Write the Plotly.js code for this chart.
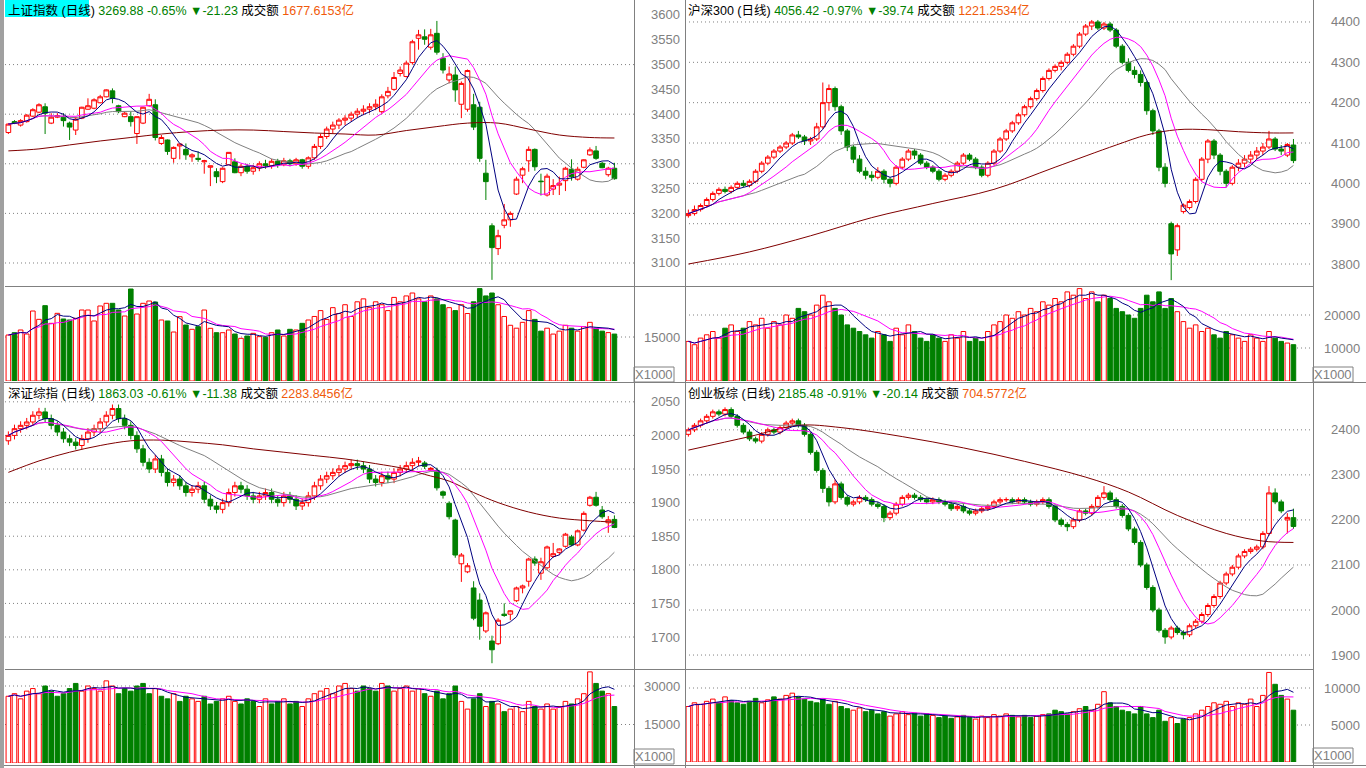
<!DOCTYPE html>
<html>
<head>
<meta charset="utf-8">
<script src="https://cdn.plot.ly/plotly-3.0.1.min.js"></script>
<style>
  html, body { margin: 0; padding: 0; background: #fff; overflow: hidden; }
  #chart { width: 1366px; height: 768px; }
</style>
</head>
<body>
<div id="chart"></div>
<script>
// ---- 上证指数 ----
var shOpen = [3363,3385,3378,3385,3396,3404,3415,3382,3394,3394, 3382,3368,3392,3410,3412,3423,3435,3447,3417,3395, 3395,3361,3382,3417,3419,3341,3348,3311,3336,3329, 3314,3311,3304,3293,3284,3264,3298,3304,3282,3295, 3285,3292,3300,3296,3305,3298,3306,3300,3308,3295, 3312,3335,3355,3370,3378,3388,3392,3400,3406,3410, 3415,3405,3437,3450,3482,3476,3504,3553,3556,3535, 3563,3513,3469,3479,3420,3410,3419,3414,3281,3175, 3129,3176,3187,3239,3277,3306,3329,3265,3237,3249, 3257,3266,3289,3269,3293,3318,3326,3301,3278,3291];
var shHigh = [3382,3388,3390,3400,3412,3422,3422,3402,3402,3402, 3385,3395,3415,3432,3432,3439,3450,3452,3419,3405, 3405,3395,3415,3441,3430,3358,3349,3335,3340,3341, 3321,3325,3308,3296,3291,3293,3323,3311,3300,3300, 3298,3305,3308,3310,3310,3312,3310,3312,3310,3315, 3340,3360,3375,3385,3392,3398,3405,3412,3418,3422, 3430,3440,3455,3485,3496,3508,3550,3570,3571,3572, 3588,3523,3496,3496,3466,3490,3441,3425,3308,3180, 3167,3219,3204,3274,3294,3335,3331,3280,3280,3269, 3274,3294,3309,3294,3309,3333,3336,3304,3294,3302];
var shLow = [3360,3380,3375,3383,3394,3402,3360,3380,3392,3375, 3348,3358,3390,3409,3410,3422,3434,3422,3402,3394, 3375,3340,3380,3415,3347,3338,3318,3302,3309,3308, 3304,3304,3280,3255,3261,3261,3298,3281,3275,3280, 3278,3285,3290,3290,3292,3295,3295,3296,3290,3290, 3308,3330,3350,3362,3370,3378,3385,3392,3398,3402, 3408,3400,3432,3447,3476,3474,3500,3530,3540,3530, 3520,3482,3462,3425,3392,3405,3368,3304,3227,3066, 3116,3170,3173,3237,3261,3284,3286,3236,3234,3237, 3237,3245,3266,3266,3291,3316,3308,3291,3274,3268];
var shClose = [3380,3382,3387,3398,3409,3419,3402,3394,3397,3387, 3374,3390,3414,3417,3429,3435,3449,3432,3405,3402, 3385,3395,3414,3430,3353,3353,3325,3333,3340,3318, 3318,3309,3306,3296,3274,3291,3323,3282,3295,3285, 3292,3300,3296,3305,3298,3306,3300,3308,3295,3312, 3335,3355,3370,3378,3388,3392,3400,3406,3410,3415, 3420,3435,3446,3474,3489,3503,3546,3560,3551,3560, 3525,3489,3481,3449,3462,3488,3374,3311,3264,3131, 3155,3187,3200,3269,3290,3329,3294,3264,3275,3256, 3261,3291,3274,3289,3308,3328,3311,3292,3291.11,3269.88];
var shVol = [15680,16470,17390,16020,23860,21020,25680,19660,23070,21140, 20800,21370,24200,24200,20460,25570,26480,26480,24200,22160, 31360,22840,26480,27270,26930,20800,20460,16700,21930,19090, 17620,18520,24200,17960,16470,16470,17390,16020,14550,15340, 16250,15120,14890,16470,17390,15340,17620,17390,19660,20800, 22000,24000,21000,25000,23000,26000,22000,27000,28000,25000, 27000,26000,24000,28500,27000,29000,30000,28000,27000,29000, 28000,26000,25000,24000,26000,23000,27000,31500,29000,30000, 26000,22000,19000,18000,20000,24000,21000,17000,18000,16000, 17000,19000,18000,17000,18500,20000,18000,17000,16500,16000];
var shMaLongX = [0,5,10,15,20,25,30,35,40,45,50,55,60,65,70,75,80,85,90,95,99];
var shMaLong = [3326,3330,3338,3346,3353,3360,3365,3368,3368,3365,3362,3360,3358,3367,3375,3382,3382,3370,3358,3353,3352];

// ---- 沪深300 ----
var hsOpen = [3920,3925,3935,3945,3960,3975,3985,3980,3990,4000, 3995,4005,4030,4050,4065,4080,4090,4100,4120,4115, 4105,4110,4140,4200,4235,4190,4130,4090,4060,4030, 4020,4015,4030,4010,4000,4040,4060,4080,4070,4050, 4040,4030,4010,4020,4030,4050,4070,4060,4040,4020, 4050,4080,4110,4130,4150,4170,4190,4210,4230,4260, 4280,4290,4300,4320,4340,4370,4390,4400,4385,4395, 4380,4340,4300,4280,4270,4250,4180,4130,4040,3900, 3835,3930,3940,3955,4010,4060,4105,4070,4030,4000, 4040,4050,4060,4070,4080,4090,4110,4085,4070,4095];
var hsHigh = [3935,3945,3950,3965,3980,3990,3992,3995,4005,4008, 4010,4035,4055,4070,4085,4095,4105,4125,4130,4120, 4115,4150,4250,4245,4240,4195,4135,4095,4070,4040, 4030,4040,4035,4015,4045,4065,4085,4085,4075,4055, 4045,4035,4025,4035,4055,4075,4075,4065,4045,4055, 4085,4115,4135,4155,4175,4195,4215,4235,4265,4285, 4295,4305,4325,4345,4375,4395,4405,4405,4400,4400, 4385,4345,4310,4290,4280,4255,4185,4135,4050,3905, 3900,3950,3960,4015,4065,4110,4110,4075,4035,4045, 4060,4070,4080,4090,4100,4130,4115,4095,4100,4110];
var hsLow = [3915,3920,3930,3940,3955,3970,3975,3975,3985,3990, 3990,4000,4025,4045,4060,4075,4085,4095,4110,4095, 4095,4105,4135,4180,4180,4120,4080,4050,4025,4010, 4005,4010,4000,3990,3995,4035,4055,4060,4045,4035, 4025,4005,4005,4015,4025,4045,4055,4035,4015,4015, 4045,4075,4105,4125,4145,4165,4185,4205,4225,4255, 4275,4280,4295,4315,4335,4365,4380,4380,4380,4375, 4335,4295,4275,4260,4240,4170,4120,4030,3990,3760, 3820,3925,3935,3950,4005,4050,4060,4020,3990,3995, 4030,4040,4050,4060,4070,4085,4080,4070,4065,4050];
var hsClose = [3925,3935,3945,3960,3975,3985,3980,3990,4000,3995, 4005,4030,4050,4065,4080,4090,4100,4120,4115,4105, 4110,4140,4200,4235,4190,4130,4090,4060,4030,4020, 4015,4030,4010,4000,4040,4060,4080,4070,4050,4040, 4030,4010,4020,4030,4050,4070,4060,4040,4020,4050, 4080,4110,4130,4150,4170,4190,4210,4230,4260,4280, 4290,4300,4320,4340,4370,4390,4400,4385,4395,4380, 4340,4300,4280,4270,4250,4180,4130,4040,4000,3825, 3895,3946,3955,4010,4060,4105,4070,4030,4000,4040, 4050,4060,4070,4080,4090,4110,4085,4080,4096.16,4056.42];
var hsVol = [12000,11000,13000,14000,15000,13000,16000,17000,15000,16000, 18000,17000,19000,16000,18000,17000,20000,19000,22000,21000, 20000,23000,26000,24000,22000,20000,17000,16000,15000,14000, 13000,15000,14000,12000,16000,14000,17000,15000,13000,12000, 14000,13000,12000,14000,13000,15000,12000,13000,12000,15000, 17000,18000,20000,19000,21000,20000,22000,21000,24000,23000, 25000,24000,27000,26000,28000,25000,27000,24000,26000,25000, 22000,21000,20000,19000,22000,26000,24000,27000,22000,25000, 21000,18000,16000,17000,15000,16000,14000,13000,15000,14000, 13000,12000,14000,13000,12000,15000,13000,12000,11500,11000];
var hsMaLongX = [0,10,20,30,40,50,60,70,75,80,85,90,95,99];
var hsMaLong = [3800,3830,3870,3915,3950,3985,4040,4095,4120,4133,4133,4128,4125,4125];

// ---- 深证综指 ----
var szOpen = [1992,2000,2010,2015,2020,2030,2035,2025,2015,2005, 1995,1990,1985,1995,2005,2010,2020,2030,2040,2025, 2015,2000,1980,1960,1950,1965,1945,1930,1935,1925, 1915,1920,1925,1905,1895,1890,1900,1915,1925,1920, 1910,1905,1910,1915,1905,1900,1910,1905,1895,1900, 1910,1925,1935,1940,1945,1950,1955,1958,1955,1950, 1935,1930,1940,1935,1945,1950,1955,1960, 1959,1949,1948,1916,1899,1874,1809,1797,1773,1755, 1709,1694,1690,1734,1734,1754,1773,1783,1816,1795, 1803,1820,1826,1835,1849,1837,1859,1896,1908,1889, 1870,1875];
var szHigh = [2006,2016,2021,2026,2036,2041,2041,2031,2021,2011, 2001,1996,2001,2011,2016,2026,2036,2046,2046,2031, 2021,2006,1986,1966,1971,1971,1951,1941,1941,1931, 1926,1931,1931,1911,1901,1906,1921,1931,1931,1926, 1916,1916,1921,1921,1911,1916,1916,1911,1906,1916, 1931,1941,1946,1951,1956,1961,1964,1964,1961,1956, 1941,1946,1946,1951,1956,1961,1966,1968, 1962,1953,1952,1918,1902,1876,1825,1810,1783,1765, 1738,1702,1728,1750,1740,1775,1778,1818,1820,1818, 1836,1840,1832,1855,1852,1860,1887,1910,1916,1895, 1880,1881];
var szLow = [1986,1994,2004,2009,2014,2024,2019,2009,1999,1989, 1984,1979,1979,1989,1999,2004,2014,2024,2019,2009, 1994,1974,1954,1944,1944,1939,1924,1924,1919,1909, 1909,1914,1899,1889,1884,1884,1894,1909,1914,1904, 1899,1899,1904,1899,1894,1894,1899,1889,1889,1894, 1904,1919,1929,1934,1939,1944,1949,1949,1944,1929, 1924,1924,1929,1929,1939,1944,1949,1954, 1950,1947,1918,1906,1875,1818,1782,1795,1725,1696, 1706,1661,1688,1730,1725,1752,1765,1775,1806,1785, 1800,1818,1822,1833,1835,1835,1857,1894,1894,1876, 1855,1862];
var szClose = [2000,2010,2015,2020,2030,2035,2025,2015,2005,1995, 1990,1985,1995,2005,2010,2020,2030,2040,2025,2015, 2000,1980,1960,1950,1965,1945,1930,1935,1925,1915, 1920,1925,1905,1895,1890,1900,1915,1925,1920,1910, 1905,1910,1915,1905,1900,1910,1905,1895,1900,1910, 1925,1935,1940,1945,1950,1955,1958,1955,1950,1935, 1930,1940,1935,1945,1950,1955,1960,1962, 1954,1951,1922,1911,1879,1822,1822,1806,1728,1716, 1736,1681,1725,1732,1739,1773,1776,1816,1810,1812, 1834,1824,1831,1853,1837,1858,1884,1908,1896,1879, 1874.41,1863.03];
var szVol = [26000,27000,25000,28000,29000,27000,30000,28000,26000,27000, 29000,31000,28000,30000,29000,28000,32000,30000,27000,29000, 28000,30000,31000,27000,29000,26000,25000,27000,24000,26000, 25000,24000,26000,23000,24000,25000,26000,24000,23000,25000, 24000,22000,25000,23000,24000,25000,23000,24000,22000,25000, 27000,28000,29000,27000,30000,31000,29000,28000,30000,29000, 28000,31000,30000,28000,29000,30000,28000,29000,27000,26000, 28000,25000,27000,30000,24000,21000,25000,27000,22000,24000, 23000,20000,21000,22000,20000,24000,22000,21000,23000,21000, 22000,24000,23000,25000,27000,35500,31000,28000,27000,22000];
var szMaLongX = [0,5,10,15,20,25,30,35,40,45,50,55,60,65,68,72,76,80,85,90,95,99];
var szMaLong = [1945,1962,1975,1985,1992,1993,1990,1986,1980,1975,1970,1965,1958,1950,1942,1932,1915,1900,1886,1877,1873,1871];

// ---- 创业板综 ----
var cyOpen = [2390,2400,2410,2420,2430,2440,2435,2445,2430,2410, 2395,2380,2375,2390,2400,2395,2405,2415,2420,2410, 2390,2350,2310,2270,2240,2280,2250,2235,2240,2250, 2245,2235,2230,2205,2215,2235,2250,2255,2250,2245, 2240,2245,2240,2235,2225,2230,2220,2215,2220,2225, 2230,2240,2245,2245,2240,2245,2240,2235,2240,2245, 2230,2200,2190,2185,2200,2220,2215,2230,2250,2260, 2245,2230,2210,2180,2150,2100,2050,2000,1955,1940, 1960,1950,1945,1965,1975,1990,2010,2030,2060,2080, 2095,2120,2130,2135,2140,2170,2260,2240,2200,2205];
var cyHigh = [2405,2415,2425,2435,2445,2445,2450,2450,2435,2415, 2400,2385,2395,2405,2405,2410,2420,2425,2425,2415, 2395,2355,2315,2275,2290,2285,2255,2245,2255,2255, 2250,2240,2235,2220,2240,2255,2260,2260,2255,2250, 2250,2250,2245,2240,2235,2235,2225,2225,2230,2235, 2245,2250,2250,2250,2250,2250,2245,2245,2250,2250, 2235,2205,2195,2205,2225,2225,2235,2255,2275,2265, 2250,2235,2215,2185,2155,2105,2055,2005,1960,1965, 1965,1955,1970,1980,1995,2015,2035,2065,2085,2100, 2125,2135,2140,2145,2175,2275,2270,2245,2215,2225];
var cyLow = [2385,2395,2405,2415,2425,2430,2430,2425,2405,2390, 2375,2370,2370,2385,2390,2390,2400,2410,2405,2385, 2345,2305,2260,2230,2235,2245,2230,2230,2235,2240, 2230,2225,2195,2200,2210,2230,2245,2245,2240,2235, 2235,2235,2230,2220,2220,2215,2210,2210,2215,2220, 2225,2235,2240,2235,2235,2235,2230,2230,2235,2225, 2195,2185,2175,2180,2195,2210,2210,2225,2245,2240, 2225,2205,2175,2145,2095,2045,1995,1950,1925,1935, 1945,1935,1940,1960,1970,1985,2005,2025,2055,2075, 2090,2115,2125,2130,2135,2165,2235,2215,2170,2180];
var cyClose = [2400,2410,2420,2430,2440,2435,2445,2430,2410,2395, 2380,2375,2390,2400,2395,2405,2415,2420,2410,2390, 2350,2310,2270,2240,2280,2250,2235,2240,2250,2245, 2235,2230,2205,2215,2235,2250,2255,2250,2245,2240, 2245,2240,2235,2225,2230,2220,2215,2220,2225,2230, 2240,2245,2245,2240,2245,2240,2235,2240,2245,2230, 2200,2190,2185,2200,2220,2215,2230,2250,2260,2245, 2230,2210,2180,2150,2100,2050,2000,1955,1940,1960, 1950,1945,1965,1975,1990,2010,2030,2060,2080,2095, 2120,2130,2135,2140,2170,2260,2240,2220,2205.62,2185.48];
var cyVol = [7500,8000,7800,8200,8500,8000,8800,8300,8000,7800, 8200,8600,8000,8400,8800,8500,9000,9300,8800,8500, 8200,8000,8500,7800,8200,7500,7200,7000,7300,6800, 7000,6500,6800,6200,6500,6800,6400,6600,6200,6500, 6300,6000,6200,5900,6100,6300,6000,5800,6200,6000, 6400,6200,6500,6300,6100,6300,6000,6200,6400,6500, 7000,6800,6500,6800,7200,7500,7000,7800,9500,8000, 7500,7000,6800,6500,7500,6500,6000,7000,5500,6000, 5200,5800,6000,6500,7000,7500,8000,7800,8200,7500, 8000,7800,8500,7500,9000,12100,10500,9000,8500,7000];
var cyMaLongX = [0,10,18,25,35,45,55,65,72,80,88,94,99];
var cyMaLong = [2355,2385,2410,2405,2385,2360,2330,2295,2262,2210,2170,2153,2150];

// ---- axis labels ----
var shTicks = [3100,3150,3200,3250,3300,3350,3400,3450,3500,3550,3600];
var shGrid = [3100,3200,3300,3400,3500];
var hsTicks = [3800,3900,4000,4100,4200,4300,4400];
var szTicks = [1700,1750,1800,1850,1900,1950,2000,2050];
var cyTicks = [1900,2000,2100,2200,2300,2400];
var shVolTicks = [15000];
var hsVolTicks = [10000,20000];
var szVolTicks = [15000,30000];
var cyVolTicks = [5000,10000];

var headers = [
  ['上证指数 (日线)', '3269.88 -0.65% ▼-21.23', '1677.6153亿'],
  ['沪深300 (日线)', '4056.42 -0.97% ▼-39.74', '1221.2534亿'],
  ['深证综指 (日线)', '1863.03 -0.61% ▼-11.38', '2283.8456亿'],
  ['创业板综 (日线)', '2185.48 -0.91% ▼-20.14', '704.5772亿']
];

var W = 1366, H = 768;
function fx(p) { return p / W; }
function fy(p) { return 1 - p / H; }

var RED = '#ff0000', GREEN = '#008000', GRAY = '#808080';
var FONT = '"Liberation Sans", Arial, "Noto Sans CJK SC", sans-serif';

function ma(arr, n) {
  return arr.map(function (_, i) {
    var s = arr.slice(Math.max(0, i - n + 1), i + 1);
    return s.reduce(function (a, b) { return a + b; }, 0) / s.length;
  });
}

var idx = shClose.map(function (_, i) { return i; });

var panels = [
  { o: shOpen, h: shHigh, l: shLow, c: shClose, v: shVol, lx: shMaLongX, lv: shMaLong,
    xa: 'x', ya: 'y', yv: 'y2', ticks: shTicks, grid: shGrid, vticks: shVolTicks,
    left: 5, right: 634, top: 0, mid: 286, bot: 381, labelX: 682, range: [3053.6, 3630.2], vrange: [0, 32045] },
  { o: hsOpen, h: hsHigh, l: hsLow, c: hsClose, v: hsVol, lx: hsMaLongX, lv: hsMaLong,
    xa: 'x2', ya: 'y3', yv: 'y4', ticks: hsTicks, grid: hsTicks, vticks: hsVolTicks,
    left: 685, right: 1313, top: 0, mid: 286, bot: 381, labelX: 1362, range: [3745.5, 4454.5], vrange: [0, 28485] },
  { o: szOpen, h: szHigh, l: szLow, c: szClose, v: szVol, lx: szMaLongX, lv: szMaLong,
    xa: 'x3', ya: 'y5', yv: 'y6', ticks: szTicks, grid: szTicks, vticks: szVolTicks,
    left: 5, right: 634, top: 383, mid: 669, bot: 763, labelX: 682, range: [1652.4, 2078], vrange: [0, 36234] },
  { o: cyOpen, h: cyHigh, l: cyLow, c: cyClose, v: cyVol, lx: cyMaLongX, lv: cyMaLong,
    xa: 'x4', ya: 'y7', yv: 'y8', ticks: cyTicks, grid: cyTicks, vticks: cyVolTicks,
    left: 685, right: 1313, top: 383, mid: 669, bot: 762, labelX: 1362, range: [1869, 2504], vrange: [0, 12432] }
];

var data = [];
var layout = {
  width: W, height: H,
  margin: { l: 0, r: 0, t: 0, b: 0 },
  paper_bgcolor: '#ffffff', plot_bgcolor: '#ffffff',
  showlegend: false, hovermode: false, dragmode: false,
  boxgap: 0.2, boxgroupgap: 0.05,
  font: { family: FONT, size: 12, color: '#000' },
  shapes: [], annotations: []
};

function axName(a) { return a.replace('x', 'xaxis').replace('y', 'yaxis'); }
function lineTrace(x, y, color, xa, ya, shape) {
  return { type: 'scatter', mode: 'lines', x: x, y: y, xaxis: xa, yaxis: ya,
    line: { color: color, width: 1, shape: shape || 'linear' }, hoverinfo: 'skip' };
}

panels.forEach(function (p, k) {
  var xk = axName(p.xa), yk = axName(p.ya), vk = axName(p.yv);
  layout[xk] = { domain: [fx(p.left), fx(p.right)], range: [-0.55, 102.2], visible: false,
    anchor: p.ya, rangeslider: { visible: false }, fixedrange: true };
  var yBase = { showgrid: false, zeroline: false, showticklabels: false, ticks: '', showline: false,
    anchor: p.xa, fixedrange: true };
  layout[yk] = Object.assign({}, yBase, { domain: [fy(p.mid), fy(p.top)], range: p.range });
  layout[vk] = Object.assign({}, yBase, { domain: [fy(p.bot), fy(p.mid + 1)], range: p.vrange });

  data.push({
    type: 'candlestick', x: idx, open: p.o, high: p.h, low: p.l, close: p.c,
    xaxis: p.xa, yaxis: p.ya, whiskerwidth: 0, hoverinfo: 'skip',
    increasing: { line: { color: RED, width: 1 }, fillcolor: '#ffffff' },
    decreasing: { line: { color: GREEN, width: 1 }, fillcolor: GREEN }
  });
  data.push(lineTrace(idx, ma(p.c, 20), GRAY, p.xa, p.ya));
  data.push(lineTrace(p.lx, p.lv, '#800000', p.xa, p.ya, 'spline'));
  data.push(lineTrace(idx, ma(p.c, 10), '#ff00ff', p.xa, p.ya));
  data.push(lineTrace(idx, ma(p.c, 5), '#000080', p.xa, p.ya));

  var up = p.c.map(function (c, i) { return c >= p.o[i]; });
  data.push({
    type: 'bar', x: idx, y: p.v, xaxis: p.xa, yaxis: p.yv, width: 0.75, hoverinfo: 'skip',
    marker: { color: up.map(function (u) { return u ? '#ffffff' : GREEN; }),
      line: { color: up.map(function (u) { return u ? RED : GREEN; }), width: 1 } }
  });
  data.push(lineTrace(idx, ma(p.v, 10), '#ff00ff', p.xa, p.yv));
  data.push(lineTrace(idx, ma(p.v, 5), '#000080', p.xa, p.yv));

  // dotted grid lines
  p.grid.forEach(function (g) {
    layout.shapes.push({ type: 'line', xref: p.xa + ' domain', yref: p.ya, x0: 0, x1: 1, y0: g, y1: g,
      line: { color: GRAY, width: 1, dash: '1px,3px' }, layer: 'below' });
  });
  p.vticks.forEach(function (g) {
    layout.shapes.push({ type: 'line', xref: p.xa + ' domain', yref: p.yv, x0: 0, x1: 1, y0: g, y1: g,
      line: { color: GRAY, width: 1, dash: '1px,3px' }, layer: 'below' });
  });
  // tick labels
  p.ticks.forEach(function (t) {
    layout.annotations.push({ xref: 'paper', yref: p.ya, x: fx(p.labelX), y: t, text: String(t),
      xanchor: 'right', yanchor: 'middle', showarrow: false, font: { size: 13, color: GRAY } });
  });
  p.vticks.forEach(function (t) {
    layout.annotations.push({ xref: 'paper', yref: p.yv, x: fx(p.labelX), y: t, text: String(t),
      xanchor: 'right', yanchor: 'middle', showarrow: false, font: { size: 13, color: GRAY } });
  });
  // X1000 box
  var bx = p.right, by = p.bot;
  layout.shapes.push({ type: 'rect', xref: 'paper', yref: 'paper', x0: fx(bx), x1: fx(bx + 40),
    y0: fy(by + 1), y1: fy(by - 14), line: { color: GRAY, width: 1 }, fillcolor: 'rgba(0,0,0,0)' });
  layout.annotations.push({ xref: 'paper', yref: 'paper', x: fx(bx + 20), y: fy(by - 6.5), text: 'X1000',
    xanchor: 'center', yanchor: 'middle', showarrow: false, font: { size: 13, color: GRAY } });
  // header
  var hd = headers[k];
  layout.annotations.push({ xref: 'paper', yref: 'paper', x: fx(p.left + 1), y: fy(p.top + 1),
    xanchor: 'left', yanchor: 'top', showarrow: false, align: 'left',
    text: hd[0] + ' <span style="color:#008000">' + hd[1] + '</span> 成交额 <span style="color:#f05a0a">' + hd[2] + '</span>',
    font: { size: 12.5, color: '#000' } });
});

// cyan highlight behind the active title
layout.shapes.push({ type: 'rect', xref: 'paper', yref: 'paper', x0: fx(5), x1: fx(89), y0: fy(17), y1: fy(0),
  fillcolor: '#00ffff', line: { width: 0 }, layer: 'below' });
// frame lines
function hline(y, x0, x1) {
  layout.shapes.push({ type: 'line', xref: 'paper', yref: 'paper', x0: fx(x0), x1: fx(x1), y0: fy(y), y1: fy(y),
    line: { color: GRAY, width: 1 } });
}
function vline(x, y0, y1) {
  layout.shapes.push({ type: 'line', xref: 'paper', yref: 'paper', x0: fx(x), x1: fx(x), y0: fy(y0), y1: fy(y1),
    line: { color: GRAY, width: 1 } });
}
vline(634.5, 0, 768); vline(685.5, 0, 768); vline(1313.5, 0, 768);
hline(286.5, 5, 1313); hline(382.5, 0, 1366); hline(669.5, 5, 1313); hline(765.5, 0, 1366);
layout.shapes.push({ type: 'rect', xref: 'paper', yref: 'paper', x0: 0, x1: fx(4), y0: 0, y1: 1,
  fillcolor: '#a0a0a0', line: { width: 0 } });

Plotly.newPlot('chart', data, layout, { displayModeBar: false, staticPlot: true });
</script>
</body>
</html>
